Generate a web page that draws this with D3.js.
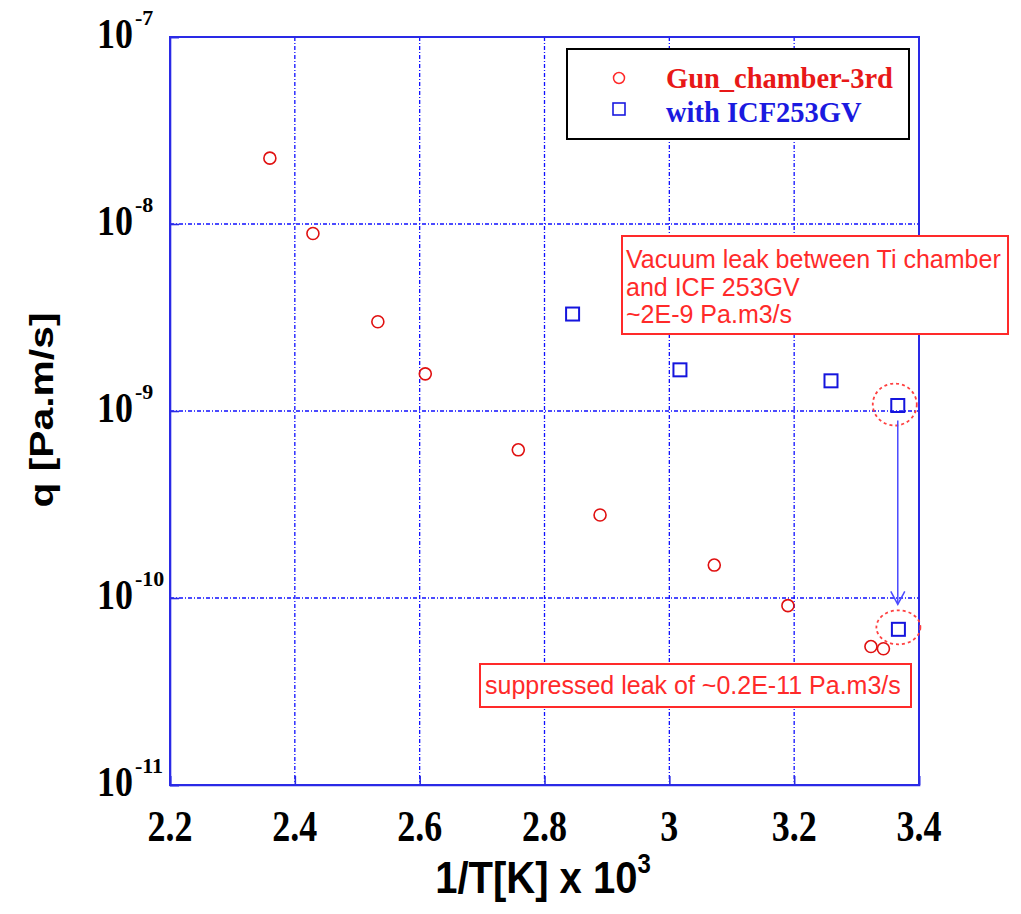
<!DOCTYPE html>
<html><head><meta charset="utf-8">
<script src="https://cdn.jsdelivr.net/npm/d3@7"></script>
<style>body{margin:0;background:#fff}</style>
</head><body>
<script>
// ---- data ----
const gunX = [2.360, 2.429, 2.533, 2.609, 2.758, 2.889, 3.072, 3.190, 3.323, 3.343];
const gunQ = [2.25e-8, 8.9e-9, 3.0e-9, 1.58e-9, 6.2e-10, 2.78e-10, 1.50e-10, 9.1e-11, 5.5e-11, 5.35e-11];
const gvX = [2.845, 3.017, 3.259, 3.366, 3.367];
const gvQ = [3.3e-9, 1.66e-9, 1.45e-9, 1.07e-9, 6.8e-11];
const xTicks = [2.2, 2.4, 2.6, 2.8, 3.0, 3.2, 3.4];
const xTickLabels = ["2.2", "2.4", "2.6", "2.8", "3", "3.2", "3.4"];
const yTicks = [1e-11, 1e-10, 1e-9, 1e-8, 1e-7];
const yTickExp = ["-11", "-10", "-9", "-8", "-7"];
const seriesNames = ["Gun_chamber-3rd", "with ICF253GV"];
const note1 = ["Vacuum leak between Ti chamber", "and ICF 253GV", "~2E-9 Pa.m3/s"];
const note2 = "suppressed leak of ~0.2E-11 Pa.m3/s";

const W = 1021, H = 914;
const L = 170, R = 919, T = 37, B = 785;
const svg = d3.select("body").append("svg").attr("width", W).attr("height", H);
const x = d3.scaleLinear().domain([2.2, 3.4]).range([L, R]);
const y = d3.scaleLog().domain([1e-11, 1e-7]).range([B, T]);

const gridCol = "#1010ff", frameCol = "#2a2ae6", red = "#ff2a2a";

// grid
const g = svg.append("g");
g.selectAll(".vg").data(xTicks.slice(1, -1)).join("line")
  .attr("x1", d => x(d)).attr("x2", d => x(d)).attr("y1", T).attr("y2", B)
  .attr("stroke", gridCol).attr("stroke-width", 1.3).attr("stroke-dasharray", "4,2,1,2");
g.selectAll(".hg").data(yTicks.slice(1, -1)).join("line")
  .attr("y1", d => y(d)).attr("y2", d => y(d)).attr("x1", L).attr("x2", R)
  .attr("stroke", gridCol).attr("stroke-width", 1.3).attr("stroke-dasharray", "4,2,1,2");

// axes via d3
const xAxis = d3.axisBottom(x).tickValues(xTicks).tickSize(-9).tickFormat("");
const yAxis = d3.axisLeft(y).tickValues(yTicks).tickSize(-9).tickFormat("");
svg.append("g").attr("transform", `translate(0,${B})`).call(xAxis)
  .call(s => s.selectAll("line,path").attr("stroke", frameCol).attr("stroke-width", 1.6));
svg.append("g").attr("transform", `translate(${L},0)`).call(yAxis)
  .call(s => s.selectAll("line,path").attr("stroke", frameCol).attr("stroke-width", 1.6));
svg.append("rect").attr("x", L).attr("y", T).attr("width", R - L).attr("height", B - T)
  .attr("fill", "none").attr("stroke", frameCol).attr("stroke-width", 2);

// tick labels
svg.selectAll(".xl").data(xTicks).join("text")
  .attr("transform", (d) => `translate(${x(d)},841) scale(1,1.22)`)
  .attr("text-anchor", "middle")
  .style("font-family", "Liberation Serif").style("font-weight", "bold").style("font-size", "36px")
  .text((d, i) => xTickLabels[i]);
const yl = svg.selectAll(".yl").data(yTicks).join("text")
  .attr("transform", d => `translate(133,${y(d) + 11}) scale(1,1.15)`)
  .style("font-family", "Liberation Serif").style("font-weight", "bold").style("font-size", "36px");
yl.append("tspan").attr("x", 0).attr("text-anchor", "end").text("10");
svg.selectAll(".ye").data(yTicks).join("text")
  .attr("x", 135).attr("y", d => y(d) - 12)
  .style("font-family", "Liberation Serif").style("font-weight", "bold").style("font-size", "22px")
  .text((d, i) => yTickExp[i]);

// axis titles
svg.append("text").attr("transform", "translate(53,410) rotate(-90) scale(1.2,1)")
  .attr("text-anchor", "middle")
  .style("font-family", "Liberation Sans").style("font-weight", "bold").style("font-size", "34px")
  .text("q [Pa.m/s]");
const xt = svg.append("text").attr("transform", "translate(543,893) scale(1,1.12)")
  .attr("text-anchor", "middle")
  .style("font-family", "Liberation Sans").style("font-weight", "bold").style("font-size", "40px");
xt.append("tspan").text("1/T[K] x 10");
xt.append("tspan").attr("dy", -18).style("font-size", "24px").text("3");

// legend
svg.append("rect").attr("x", 567).attr("y", 49).attr("width", 342).attr("height", 90)
  .attr("fill", "#fff").attr("stroke", "#000").attr("stroke-width", 2);
svg.append("circle").attr("cx", 619).attr("cy", 78).attr("r", 5.5)
  .attr("fill", "none").attr("stroke", red).attr("stroke-width", 1.5);
svg.append("rect").attr("x", 613).attr("y", 103).attr("width", 12).attr("height", 12)
  .attr("fill", "none").attr("stroke", "#1a1ae0").attr("stroke-width", 1.6);
svg.append("text").attr("x", 666).attr("y", 88).attr("fill", "#e81818")
  .style("font-family", "Liberation Serif").style("font-weight", "bold").style("font-size", "28.5px")
  .text(seriesNames[0]);
svg.append("text").attr("x", 666).attr("y", 122).attr("fill", "#1a1ae0")
  .style("font-family", "Liberation Serif").style("font-weight", "bold").style("font-size", "28.5px")
  .text(seriesNames[1]);

// annotation box 1
svg.append("rect").attr("x", 622).attr("y", 236).attr("width", 386).attr("height", 98)
  .attr("fill", "#fff").attr("stroke", red).attr("stroke-width", 2);
svg.selectAll(".n1").data(note1).join("text")
  .attr("x", 626).attr("y", (d, i) => 268 + i * 27.5).attr("fill", red)
  .style("font-family", "Liberation Sans").style("font-size", "25px").text(d => d);

// annotation box 2
svg.append("rect").attr("x", 480).attr("y", 664).attr("width", 431).attr("height", 43)
  .attr("fill", "#fff").attr("stroke", red).attr("stroke-width", 2);
svg.append("text").attr("x", 485).attr("y", 694).attr("fill", red)
  .style("font-family", "Liberation Sans").style("font-size", "25px").text(note2);

// highlight ellipses
svg.append("ellipse").attr("cx", x(gvX[3]) - 3).attr("cy", y(gvQ[3]) - 1).attr("rx", 22).attr("ry", 21)
  .attr("fill", "none").attr("stroke", "#ff4040").attr("stroke-width", 1.8).attr("stroke-dasharray", "3,3");
svg.append("ellipse").attr("cx", x(gvX[4])).attr("cy", y(gvQ[4]) - 2).attr("rx", 22).attr("ry", 17)
  .attr("fill", "none").attr("stroke", "#ff4040").attr("stroke-width", 1.8).attr("stroke-dasharray", "3,3");

// arrow
const ax = x(gvX[3]), ay1 = y(gvQ[3]) + 15, ay2 = y(gvQ[4]) - 25;
svg.append("line").attr("x1", ax).attr("x2", ax).attr("y1", ay1).attr("y2", ay2)
  .attr("stroke", "#4a4aff").attr("stroke-width", 1.5);
svg.append("path").attr("d", `M${ax - 7},${ay2 - 13} L${ax},${ay2} L${ax + 7},${ay2 - 13}`)
  .attr("fill", "none").attr("stroke", "#4a4aff").attr("stroke-width", 1.5);

// data points
svg.selectAll(".gun").data(gunX).join("circle")
  .attr("cx", d => x(d)).attr("cy", (d, i) => y(gunQ[i])).attr("r", 6)
  .attr("fill", "none").attr("stroke", "#e01010").attr("stroke-width", 1.6);
svg.selectAll(".gv").data(gvX).join("rect")
  .attr("x", d => x(d) - 6.5).attr("y", (d, i) => y(gvQ[i]) - 6.5).attr("width", 13).attr("height", 13)
  .attr("fill", "none").attr("stroke", "#1515dd").attr("stroke-width", 2);
</script>
</body></html>
